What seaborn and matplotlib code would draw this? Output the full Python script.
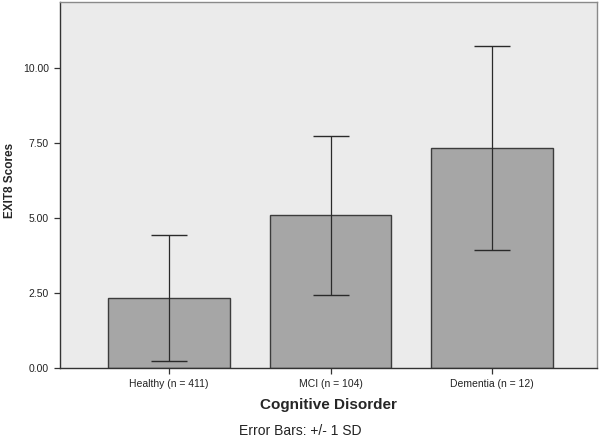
import matplotlib
matplotlib.use("Agg")
import matplotlib.pyplot as plt
import seaborn as sns
import pandas as pd

# values
groups = ["Healthy (n = 411)", "MCI (n = 104)", "Dementia (n = 12)"]
means = [2.35, 5.09, 7.34]
sds = [2.10, 2.64, 3.39]
yticks = [0.0, 2.5, 5.0, 7.5, 10.0]

df = pd.DataFrame({"group": groups, "score": means})

sns.set_style("white")
plt.rcParams["font.family"] = ["Liberation Sans", "DejaVu Sans"]

fig = plt.figure(figsize=(6.01, 4.37), dpi=100)
ax = fig.add_axes([60 / 601, (437 - 368.3) / 437, 537 / 601, 366.3 / 437])
ax.set_facecolor("#ebebeb")

sns.barplot(data=df, x="group", y="score", ax=ax, color="#a6a6a6",
            width=0.755, edgecolor="#3c3c3c", linewidth=1.0, saturation=1)

# +/- 1 SD error bars
ax.errorbar(range(len(groups)), means, yerr=sds, fmt="none",
            ecolor="#2a2a2a", elinewidth=0.9, capsize=13, capthick=1.0)

ax.set_xlim(-0.675, 2.65)
ax.set_ylim(0, 12.2)
ax.set_yticks(yticks)
ax.set_yticklabels([f"{v:.2f}" for v in yticks])

for side in ["left", "bottom"]:
    ax.spines[side].set_color("#333333")
    ax.spines[side].set_linewidth(1.0)
for side in ["top", "right"]:
    ax.spines[side].set_color("#8a8a8a")
    ax.spines[side].set_linewidth(1.0)

ax.tick_params(axis="both", which="both", length=4.5, width=0.9, color="#333333",
               labelsize=7.5, labelcolor="#222222", direction="out")
ax.tick_params(left=True, bottom=True)

ax.set_xlabel("Cognitive Disorder", fontsize=11, fontweight="bold", labelpad=6)
ax.set_ylabel("EXIT8 Scores", fontsize=8.5, fontweight="bold")
ax.yaxis.set_label_coords(-0.082, 0.514)

fig.text(300 / 601, 1 - 431 / 437, "Error Bars: +/- 1 SD", fontsize=10,
         ha="center", va="center", color="#222222")

fig.savefig("out.png", dpi=100, facecolor="white")
